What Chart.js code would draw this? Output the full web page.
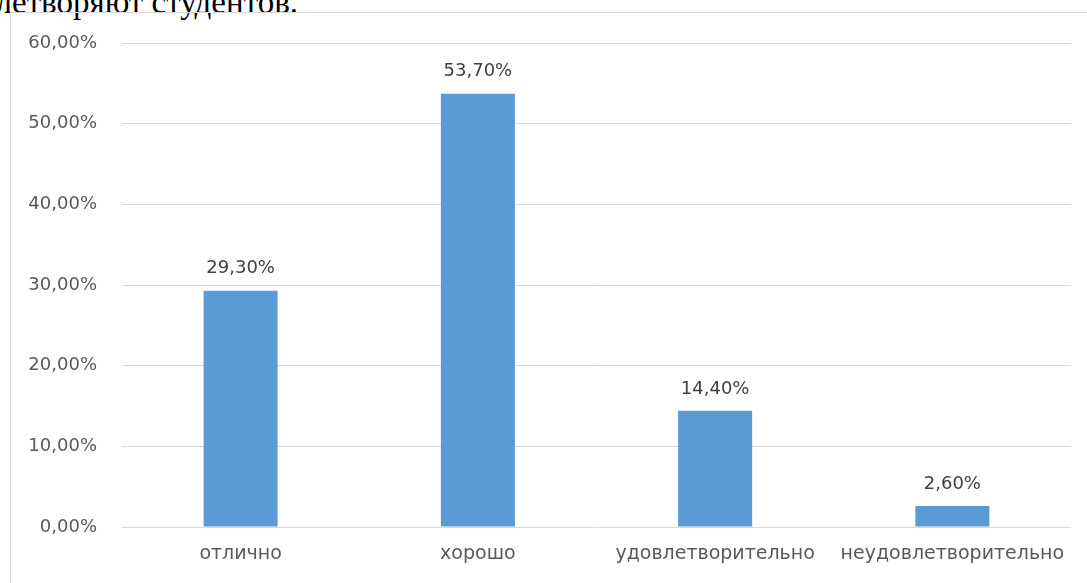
<!DOCTYPE html>
<html>
<head>
<meta charset="utf-8">
<script src="https://cdn.jsdelivr.net/npm/chart.js@4.4.1/dist/chart.umd.min.js"></script>
<style>
  html, body { margin: 0; padding: 0; background: #fff; }
  body { width: 1087px; height: 583px; position: relative; overflow: hidden; }
  .caption {
    position: absolute; right: 789px; top: -12px;
    font: 33px/28px "Liberation Serif", serif; color: #000; white-space: nowrap;
  }
  .frame {
    position: absolute; left: 10px; top: 12px; width: 1100px; height: 600px;
    border: 1px solid #d9d9d9; box-sizing: border-box;
  }
  #chart { position: absolute; left: 0; top: 0; }
</style>
</head>
<body>
<div class="caption">удовлетворяют студентов.</div>
<div class="frame"></div>
<canvas id="chart" width="1087" height="583"></canvas>
<script>
const categories = ['отлично', 'хорошо', 'удовлетворительно', 'неудовлетворительно'];
const shares = [29.3, 53.7, 14.4, 2.6];
const yTicks = [0, 10, 20, 30, 40, 50, 60];

const fontFamily = '"DejaVu Sans", sans-serif';

function formatPercent(v) {
  return v.toFixed(2).replace('.', ',') + '%';
}

// labels over each bar, like excel data labels
const valueLabels = {
  id: 'valueLabels',
  afterDatasetsDraw(chart) {
    const ctx = chart.ctx;
    const meta = chart.getDatasetMeta(0);
    ctx.save();
    ctx.font = '18px ' + fontFamily;
    ctx.fillStyle = '#404040';
    ctx.textAlign = 'center';
    ctx.textBaseline = 'bottom';
    meta.data.forEach((bar, i) => {
      ctx.fillText(formatPercent(shares[i]), bar.x, bar.y - 13);
    });
    ctx.restore();
  }
};

new Chart(document.getElementById('chart'), {
  type: 'bar',
  data: {
    labels: categories,
    datasets: [{
      data: shares,
      backgroundColor: '#5b9bd5',
      barPercentage: 0.312,
      categoryPercentage: 1
    }]
  },
  options: {
    responsive: false,
    animation: false,
    layout: { padding: { left: 10, top: 43, right: 16, bottom: 16 } },
    plugins: { legend: { display: false }, tooltip: { enabled: false } },
    scales: {
      x: {
        grid: { display: false },
        border: { display: false },
        ticks: { color: '#595959', padding: 8, font: { size: 19, family: fontFamily }, maxRotation: 0 },
        afterFit(scale) { scale.height = 40; }
      },
      y: {
        min: 0,
        max: 60,
        afterBuildTicks(scale) { scale.ticks = yTicks.map(v => ({ value: v })); },
        grid: { color: '#d9d9d9', lineWidth: 1, drawTicks: false },
        border: { display: false },
        ticks: {
          color: '#595959',
          padding: 25,
          font: { size: 18, family: fontFamily },
          callback: v => formatPercent(v)
        },
        afterFit(scale) { scale.width = 112; }
      }
    }
  },
  plugins: [valueLabels]
});
</script>
</body>
</html>
